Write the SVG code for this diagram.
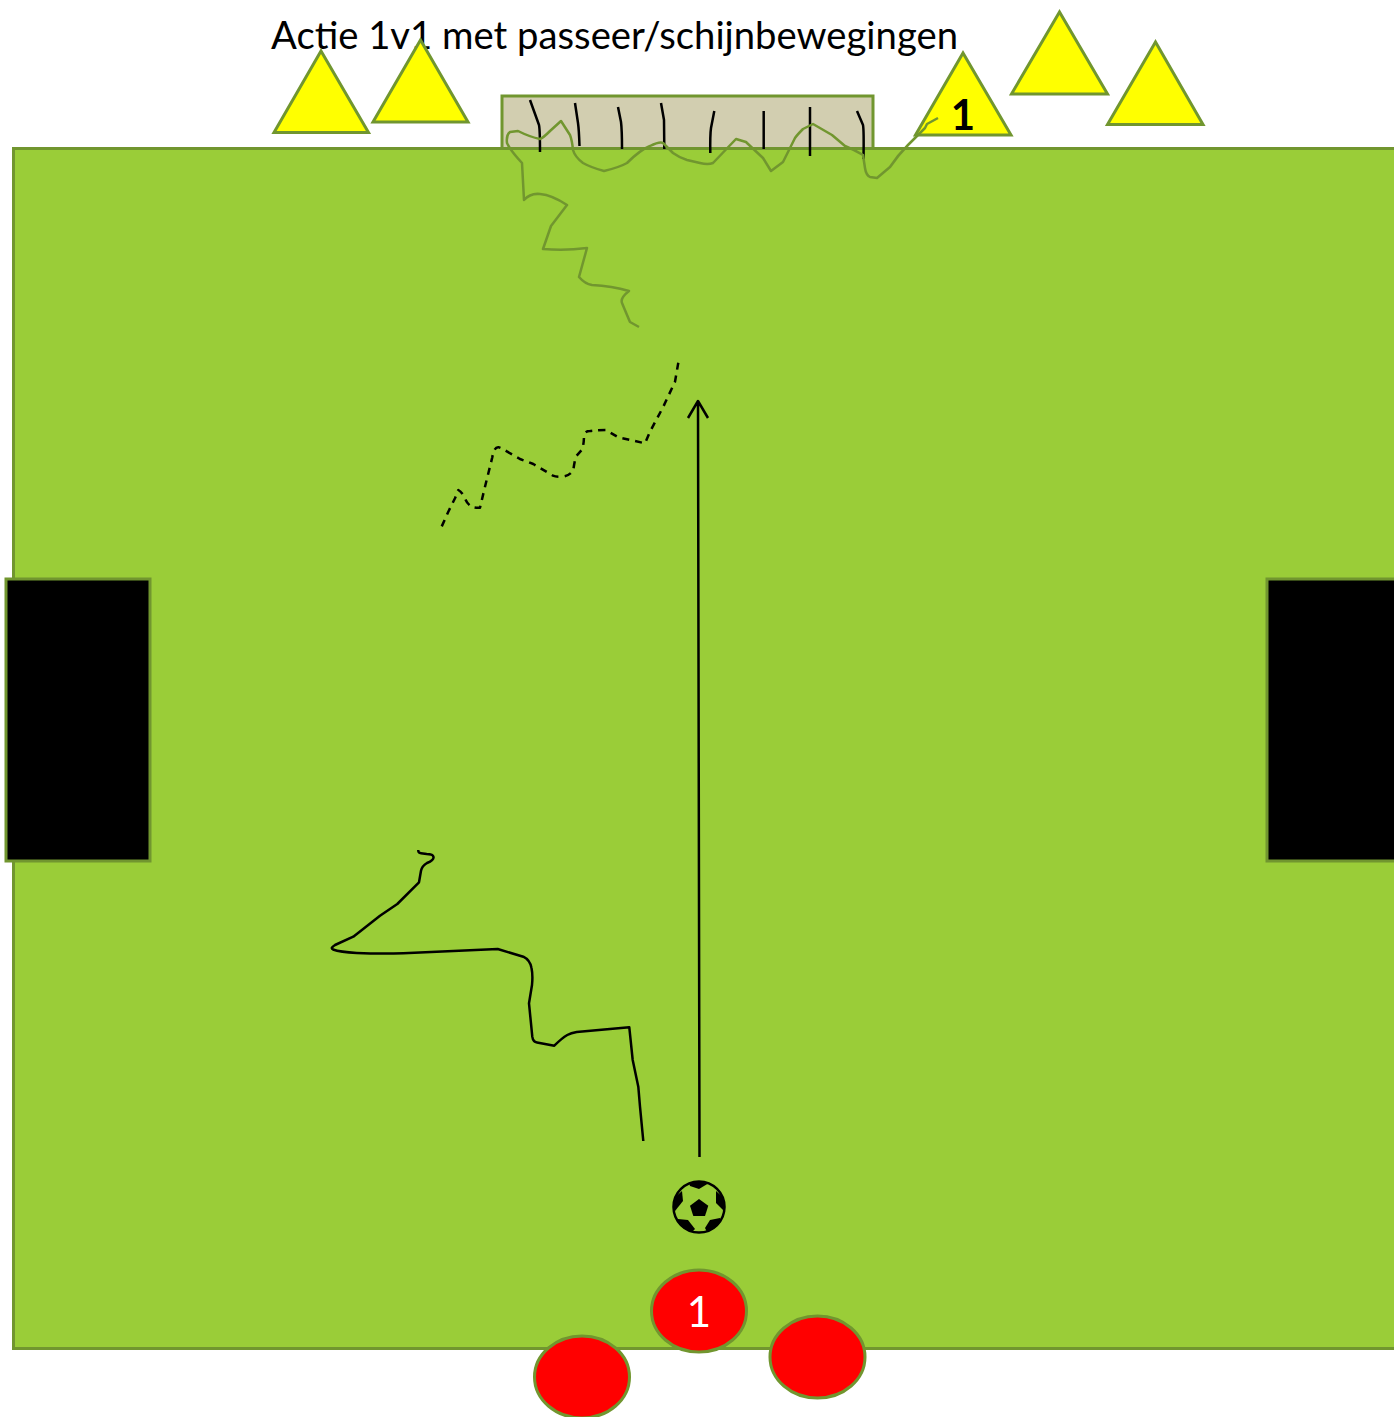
<svg xmlns="http://www.w3.org/2000/svg" width="1394" height="1417" viewBox="0 0 1394 1417">
<style>
.shape{stroke:#71962f;stroke-width:3}
.cone{fill:#ffff00;stroke:#71962f;stroke-width:3}
.player{fill:#ff0000;stroke:#71962f;stroke-width:3}
.wall{fill:#000;stroke:#71962f;stroke-width:3}
.ink{fill:none;stroke:#000;stroke-width:2.500;stroke-linejoin:round;stroke-linecap:butt}
.green{fill:none;stroke:#71962f;stroke-width:2.500;stroke-linejoin:round}
text{font-family:Lato,"Open Sans","Liberation Sans",sans-serif}
</style>
<defs>
<clipPath id="ballClip"><circle cx="699" cy="1207" r="26"/></clipPath>
</defs>
<g id="title"><text x="271" y="49" font-size="39.5" fill="#000" textLength="687" lengthAdjust="spacingAndGlyphs">Actie 1v1 met passeer/schijnbewegingen</text></g>
<g id="goal"><rect class="shape" x="502" y="96" width="371" height="60" fill="#d2ceb0"/></g>
<g id="field"><rect class="shape" x="13.5" y="148.5" width="1385" height="1200" fill="#9acd38"/></g>
<g id="cone-1"><polygon class="cone" points="321,51 274,132.5 368.500,132.500"/></g>
<g id="cone-2"><polygon class="cone" points="420.500,40 373,122 468,122"/></g>
<g id="cone-3"><polygon class="cone" points="963,53 915.500,135 1011,135"/><text x="963" y="130" font-size="42" font-weight="700" text-anchor="middle" fill="#000">1</text></g>
<g id="cone-4"><polygon class="cone" points="1059.500,12 1011.500,94 1107.500,94"/></g>
<g id="cone-5"><polygon class="cone" points="1155.500,42 1107.500,124.500 1203,124.500"/></g>
<g id="wall-left"><rect class="wall" x="6" y="579" width="144" height="282"/></g>
<g id="wall-right"><rect class="wall" x="1267" y="579" width="140" height="282"/></g>
<g id="connectors">
<g class="ink">
<path d="M530,100L539,125Q540,130 540,152"/>
<path d="M575,103L578,123Q579,130 579.500,146"/>
<path d="M618,107L621,122Q622,130 622,149"/>
<path d="M661,103L664,120L664.300,149"/>
<path d="M714.300,111L711,128Q710,135 710.300,153"/>
<path d="M763.700,111V149"/>
<path d="M810,107V156"/>
<path d="M857,111L863,125Q864,130 863.500,159"/>
</g>
<path class="green" d="M938,118L927,124L925,128L908,145Q898,155 890,167L877,178L870,177Q866,175 865,168L863,155Q855,150 845,146L832,135L813,124Q805,128 803,129Q797,135 795,138L783,162L771,171L763,158L747,143L746,142L736,139L713,163Q708,165 700,163L687,160Q680,158 673,153L663,143Q660,141 650,146Q640,150 627,163Q620,167 604,171Q590,167 583,163Q575,157 573,150Q572,140 570,135L561,121L550,131Q543,138 540,139Q530,137 518,131L510,132Q506,135 507,143Q510,150 522,163L524,200Q530,193 540,194Q552,195 567,205L551,226L543,249Q565,251 587,248L579,277Q585,284 592,285Q612,286 629,291Q620,298 622,303Q627,315 630,322L639,327"/>
<path class="ink" stroke-dasharray="7,6" d="M678.300,362.700L675,381.700L663.300,406.700L650,431.700L645,443.300L618.300,437.300L605.700,430Q597,430 590,431Q585,431 584,435Q584,445 581.700,450L575.700,456.700Q574,465 573.300,470Q570,476 561.700,476.700Q556,477 553,475.700L533.300,464L520,459L507.300,451.700Q500,447 498.300,447.300Q494,447 492.300,457.300L485,486.700L480,507.700Q475,508 471.700,506.700Q467,504 465,498.300Q462,492 458.300,490L455,498.300L448.300,511.700L439.700,531"/>
<path class="ink" d="M418.300,850Q418,853 421,853.300L426.700,854Q433,854 433.500,857Q434,860 427,863Q422,866 421,870.700L419,882.300L397.300,904L380,915.700L353.300,936.700L335,945Q330,948 333,949.500Q340,952 356.700,953Q380,954 403.300,953.300L453.300,951L497.700,949L523.300,956.700Q530,960 531.500,968Q533,975 532,985L529,1003.300L532.300,1036.700Q533,1042 537,1042.500L554.300,1045.700Q562,1038 567.300,1035Q571,1033 576.700,1032L629.300,1027.300L632.700,1060L638.300,1086.700L640,1106.700L643.300,1141"/>
<path class="ink" d="M699.500,1157L698,401M688,418L698,401L708,418"/>
</g>
<g id="ball">
<circle cx="699" cy="1207" r="25.500" fill="#9acd38" stroke="#000" stroke-width="2.500"/>
<g clip-path="url(#ballClip)" fill="#000">
<polygon points="699,1199 708.300,1205.700 705,1216 693.300,1216 690,1205.700"/>
<polygon points="688,1180 710,1180 709,1183 699,1189 690,1186"/>
<polygon points="672,1200 682,1191 683,1201 675,1211 672,1210"/>
<polygon points="716,1191 726,1200 726,1210 723,1210 716,1203"/>
<polygon points="678,1219 688,1220 695,1229 690,1234 678,1226"/>
<polygon points="705,1228 710,1220 720,1218 720,1226 708,1234"/>
</g>
</g>
<g id="player-1"><ellipse class="player" cx="699" cy="1311" rx="47.500" ry="41"/><text x="699" y="1327" font-size="42" text-anchor="middle" fill="#fff">1</text></g>
<g id="player-2"><ellipse class="player" cx="582" cy="1377" rx="47.500" ry="41"/></g>
<g id="player-3"><ellipse class="player" cx="817.500" cy="1357" rx="47.500" ry="41"/></g>
</svg>
